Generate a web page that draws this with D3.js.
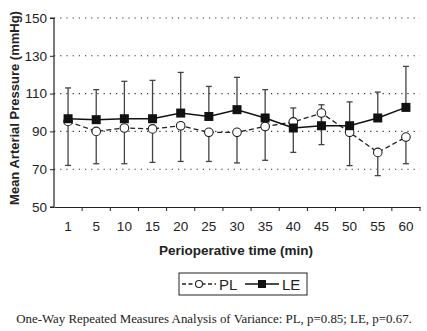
<!DOCTYPE html>
<html>
<head>
<meta charset="utf-8">
<script src="https://cdn.jsdelivr.net/npm/d3@7"></script>
<style>
  body { margin: 0; background: #fff; }
  svg { display: block; }
</style>
</head>
<body>
<div id="chart"></div>
<script>
// perioperative time points (min)
const times = ["1", "5", "10", "15", "20", "25", "30", "35", "40", "45", "50", "55", "60"];
// mean arterial pressure, mmHg
const plMean = [95.3, 90.0, 91.8, 91.3, 93.0, 89.5, 89.5, 92.6, 95.0, 99.7, 89.5, 78.9, 87.0];
const plLower = [72.0, 72.9, 72.9, 73.6, 74.1, 74.1, 73.3, 74.7, 78.9, 83.0, 71.9, 66.6, 72.9];
const leMean = [96.7, 96.2, 96.7, 96.7, 99.7, 97.9, 101.5, 97.1, 91.8, 93.0, 93.0, 97.1, 102.7];
const leUpper = [113.0, 112.1, 116.5, 117.0, 121.2, 113.8, 118.6, 112.1, 102.4, 104.1, 105.6, 110.8, 124.4];
const yTicks = [50, 70, 90, 110, 130, 150];

const width = 427;
const height = 331;
const margin = { top: 18, right: 7, bottom: 124, left: 54 };

const svg = d3.select("#chart")
  .append("svg")
  .attr("width", width)
  .attr("height", height)
  .style("font-family", "'Liberation Sans', Arial, sans-serif");

const x = d3.scaleBand()
  .domain(times)
  .range([margin.left, width - margin.right]);

const y = d3.scaleLinear()
  .domain([50, 150])
  .range([height - margin.bottom, margin.top]);

const cx = d => x(d) + x.bandwidth() / 2;

// dotted gridlines
svg.append("g")
  .selectAll("line")
  .data(yTicks.filter(t => t > 50))
  .join("line")
  .attr("x1", margin.left)
  .attr("x2", width - margin.right)
  .attr("y1", d => y(d))
  .attr("y2", d => y(d))
  .attr("stroke", "#333")
  .attr("stroke-width", 1.1)
  .attr("stroke-dasharray", "1.2,5");

// axes
const yAxis = svg.append("g")
  .attr("transform", `translate(${margin.left},0)`)
  .call(d3.axisLeft(y).tickValues(yTicks).tickSize(4).tickPadding(3));
yAxis.select(".domain").attr("d", `M-4,${y(50)}H0V${y(150)}H-4`).attr("stroke", "#222").attr("stroke-width", 1.2);
yAxis.selectAll("line").attr("stroke", "#222");
yAxis.selectAll("text").attr("font-size", 13.5).attr("fill", "#222");

const xAxis = svg.append("g")
  .attr("transform", `translate(0,${y(50)})`)
  .call(d3.axisBottom(x).tickSize(0).tickPadding(14));
xAxis.select(".domain").attr("stroke", "#222").attr("stroke-width", 1.2);
xAxis.selectAll("text").attr("font-size", 13.5).attr("fill", "#222");

// x ticks between categories
svg.append("g")
  .selectAll("line")
  .data(times)
  .join("line")
  .attr("x1", d => x(d) + x.bandwidth())
  .attr("x2", d => x(d) + x.bandwidth())
  .attr("y1", y(50))
  .attr("y2", y(50) + 4)
  .attr("stroke", "#222");

// error bars: LE upward, PL downward
const errColor = "#444";
const capW = 3;
const errs = svg.append("g").attr("stroke", errColor).attr("stroke-width", 1.3);
times.forEach((t, i) => {
  errs.append("line").attr("x1", cx(t)).attr("x2", cx(t)).attr("y1", y(leMean[i])).attr("y2", y(leUpper[i]));
  errs.append("line").attr("x1", cx(t) - capW).attr("x2", cx(t) + capW).attr("y1", y(leUpper[i])).attr("y2", y(leUpper[i]));
  errs.append("line").attr("x1", cx(t)).attr("x2", cx(t)).attr("y1", y(plMean[i])).attr("y2", y(plLower[i]));
  errs.append("line").attr("x1", cx(t) - capW).attr("x2", cx(t) + capW).attr("y1", y(plLower[i])).attr("y2", y(plLower[i]));
});

// PL dashed line with open circles
const line = d3.line().x((d, i) => cx(times[i])).y(d => y(d));
svg.append("path")
  .datum(plMean)
  .attr("d", line)
  .attr("fill", "none")
  .attr("stroke", "#222")
  .attr("stroke-width", 1.3)
  .attr("stroke-dasharray", "5,3");

// LE solid line with filled squares
svg.append("path")
  .datum(leMean)
  .attr("d", line)
  .attr("fill", "none")
  .attr("stroke", "#111")
  .attr("stroke-width", 1.5);

svg.append("g")
  .selectAll("circle")
  .data(plMean)
  .join("circle")
  .attr("cx", (d, i) => cx(times[i]))
  .attr("cy", d => y(d))
  .attr("r", 4.3)
  .attr("fill", "#fff")
  .attr("stroke", "#222")
  .attr("stroke-width", 1.1);

svg.append("g")
  .selectAll("rect")
  .data(leMean)
  .join("rect")
  .attr("x", (d, i) => cx(times[i]) - 4.5)
  .attr("y", d => y(d) - 4.5)
  .attr("width", 9)
  .attr("height", 9)
  .attr("fill", "#111");

// axis titles
svg.append("text")
  .attr("x", 236)
  .attr("y", 255)
  .attr("text-anchor", "middle")
  .attr("font-size", 13.5)
  .attr("font-weight", "bold")
  .attr("fill", "#222")
  .text("Perioperative time (min)");

svg.append("text")
  .attr("transform", "translate(19,108) rotate(-90)")
  .attr("text-anchor", "middle")
  .attr("font-size", 13)
  .attr("font-weight", "bold")
  .attr("fill", "#222")
  .text("Mean Arterial Pressure (mmHg)");

// legend
const lg = svg.append("g").attr("transform", "translate(179,273)");
lg.append("rect")
  .attr("width", 128).attr("height", 22)
  .attr("fill", "#fff").attr("stroke", "#222").attr("stroke-width", 1);
lg.append("line").attr("x1", 3).attr("x2", 37).attr("y1", 11).attr("y2", 11)
  .attr("stroke", "#222").attr("stroke-width", 1.3).attr("stroke-dasharray", "4,2.5");
lg.append("circle").attr("cx", 20).attr("cy", 11).attr("r", 3.5)
  .attr("fill", "#fff").attr("stroke", "#222").attr("stroke-width", 1.1);
lg.append("text").attr("x", 40).attr("y", 16.5).attr("font-size", 15).attr("fill", "#222").text("PL");
lg.append("line").attr("x1", 66).attr("x2", 100).attr("y1", 11).attr("y2", 11)
  .attr("stroke", "#111").attr("stroke-width", 1.5);
lg.append("rect").attr("x", 79).attr("y", 7).attr("width", 8).attr("height", 8).attr("fill", "#111");
lg.append("text").attr("x", 103).attr("y", 16.5).attr("font-size", 15).attr("fill", "#222").text("LE");

// caption
svg.append("text")
  .attr("x", 214)
  .attr("y", 323)
  .attr("text-anchor", "middle")
  .attr("font-family", "'Liberation Serif', 'Times New Roman', serif")
  .attr("font-size", 12.9)
  .attr("fill", "#222")
  .text("One-Way Repeated Measures Analysis of Variance: PL, p=0.85; LE, p=0.67.");
</script>
</body>
</html>
